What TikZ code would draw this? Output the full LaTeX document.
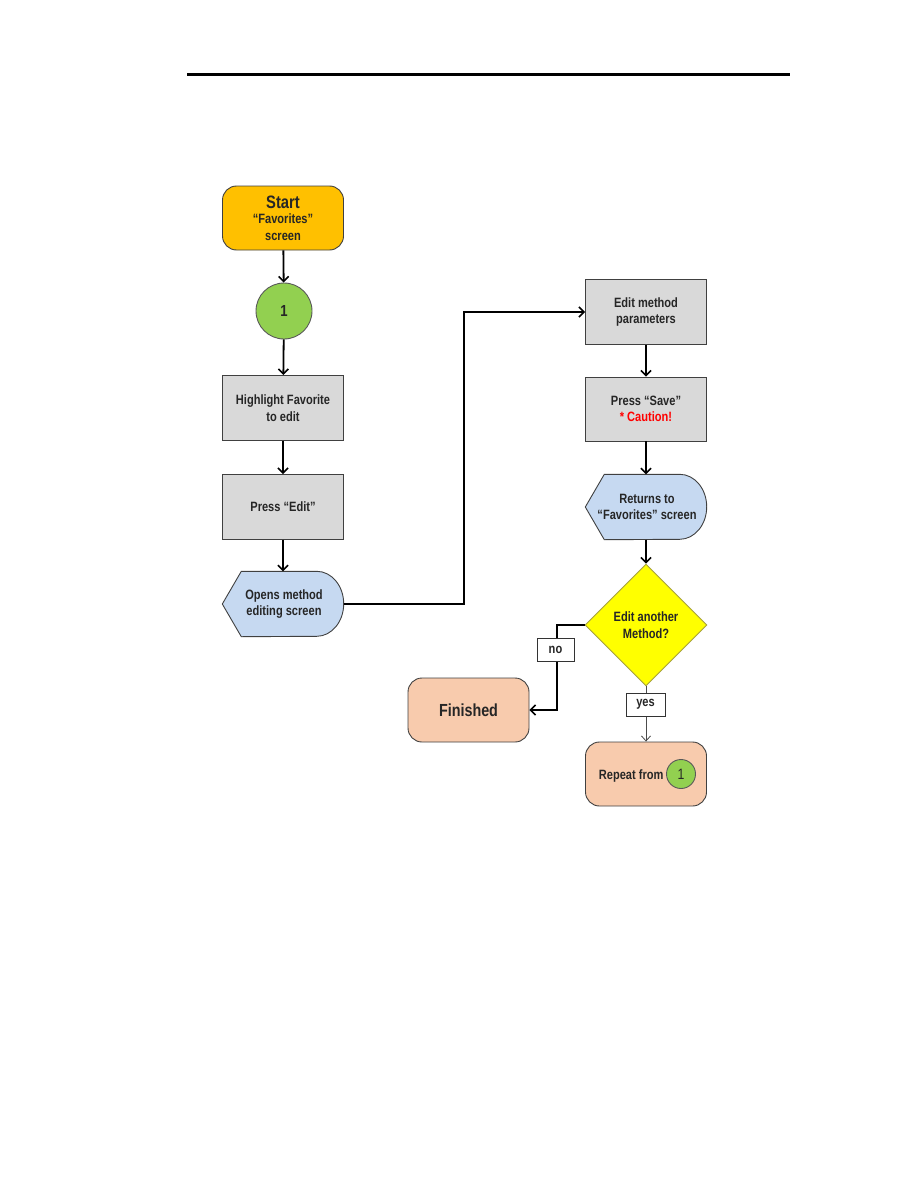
\documentclass[tikz,border=0pt]{standalone}
\usepackage{fontspec}
\setmainfont{Liberation Sans}[FakeStretch=0.82]
\usetikzlibrary{shapes.geometric,arrows.meta,positioning}
\definecolor{startorange}{HTML}{FFC000}
\definecolor{conngreen}{HTML}{92D050}
\definecolor{procgray}{HTML}{D9D9D9}
\definecolor{dispblue}{HTML}{C6D9F1}
\definecolor{endpeach}{HTML}{F8CBAD}
\definecolor{decyellow}{HTML}{FFFF00}
\tikzset{
  txt/.style={font=\bfseries\fontsize{13.5}{16.5}\selectfont, text=black!85, align=center},
  procbox/.style={txt, draw=black!75, line width=0.9pt, fill=procgray, minimum width=121pt, minimum height=65pt, inner sep=0pt},
  termbox/.style={txt, draw=black!75, line width=0.9pt, rounded corners=14pt, minimum width=121pt, minimum height=64pt, inner sep=0pt},
  connector/.style={txt, circle, draw=black!65, line width=0.9pt, fill=conngreen, inner sep=0pt},
  dispbox/.style={txt, minimum width=121pt, minimum height=65pt, inner sep=0pt},
  decision/.style={txt, diamond, draw=black!40!yellow, line width=0.9pt, fill=decyellow, minimum width=122pt, minimum height=122pt, inner sep=0pt},
  lbl/.style={txt, draw=black!80, line width=0.8pt, fill=white, minimum width=38pt, minimum height=23pt, inner sep=0pt},
  flow/.style={draw=black, line width=1.8pt, -{Straight Barb[length=5pt,width=10pt,line width=1.6pt]}},
  thinflow/.style={draw=black!70, line width=0.8pt, -{Straight Barb[length=5pt,width=9pt]}},
}
\newcommand{\dispshape}[1]{%
  \draw[draw=black!75, line width=0.9pt, fill=dispblue] (#1.west) -- ([xshift=19pt]#1.north west)
    -- ([xshift=-27pt]#1.north east) arc[start angle=90, end angle=-90, x radius=27pt, y radius=32.5pt]
    -- ([xshift=19pt]#1.south west) -- cycle;}
\begin{document}
\begin{tikzpicture}[x=1pt, y=-1pt]
  \useasboundingbox (0,0) rectangle (918,1188);
  % page rule
  \draw[line width=3pt] (187,75) coordinate (rulel) -- (790,75) coordinate (ruler);

  % left column
  \node[termbox, fill=startorange] (start) at (283,218)
    {{\fontsize{18}{20}\selectfont Start}\\[-1pt]``Favorites''\\screen};
  \node[connector, minimum size=56pt, font=\bfseries\fontsize{16}{18}\selectfont] (c1) at (284,311) {1};
  \node[procbox] (highlight) at (283,408) {Highlight Favorite\\to edit};
  \node[procbox] (pressedit) at (283,507) {Press ``Edit''};
  \node[dispbox] (opens) at (283,604) {};
  \dispshape{opens}
  \node[txt] at ([xshift=1pt]opens.center) {Opens method\\editing screen};

  % right column
  \node[procbox] (params) at (646,312) {Edit method\\parameters};
  \node[procbox, minimum height=64pt] (save) at (646,409) {Press ``Save''\\\textcolor{red}{* Caution!}};
  \node[dispbox] (returns) at (646,507) {};
  \dispshape{returns}
  \node[txt] at ([xshift=1pt]returns.center) {Returns to\\``Favorites'' screen};
  \node[decision] (another) at (646,625) {Edit another\\Method?};
  \node[termbox, fill=endpeach, font=\bfseries\fontsize{17.5}{19}\selectfont] (finished) at (468.5,710) {Finished};
  \node[termbox, fill=endpeach] (repeat) at (646,774) {};
  \node[txt, anchor=east] (repeattxt) at (667,776) {Repeat from};
  \node[connector, minimum size=29pt, font=\fontsize{15}{17}\selectfont] (c1b) at (681,774) {1};

  % connectors
  \draw[flow] (start) -- (c1);
  \draw[flow] (c1) -- (highlight);
  \draw[flow] (highlight) -- (pressedit);
  \draw[flow] (pressedit) -- (opens);
  \draw[flow] (opens.east) -- (464,604) |- (params.west);
  \draw[flow] (params) -- (save);
  \draw[flow] (save) -- (returns);
  \draw[flow] (returns) -- (another);
  \draw[flow] (another.west) -- (557,625) |- (finished.east);
  \draw[thinflow] (another.south) -- (repeat.north);
  \node[lbl, minimum width=37pt] (nolbl) at (555.5,649.5) {no};
  \node[lbl, minimum width=39pt] (yeslbl) at (645.5,704.5) {yes};
\end{tikzpicture}
\end{document}
